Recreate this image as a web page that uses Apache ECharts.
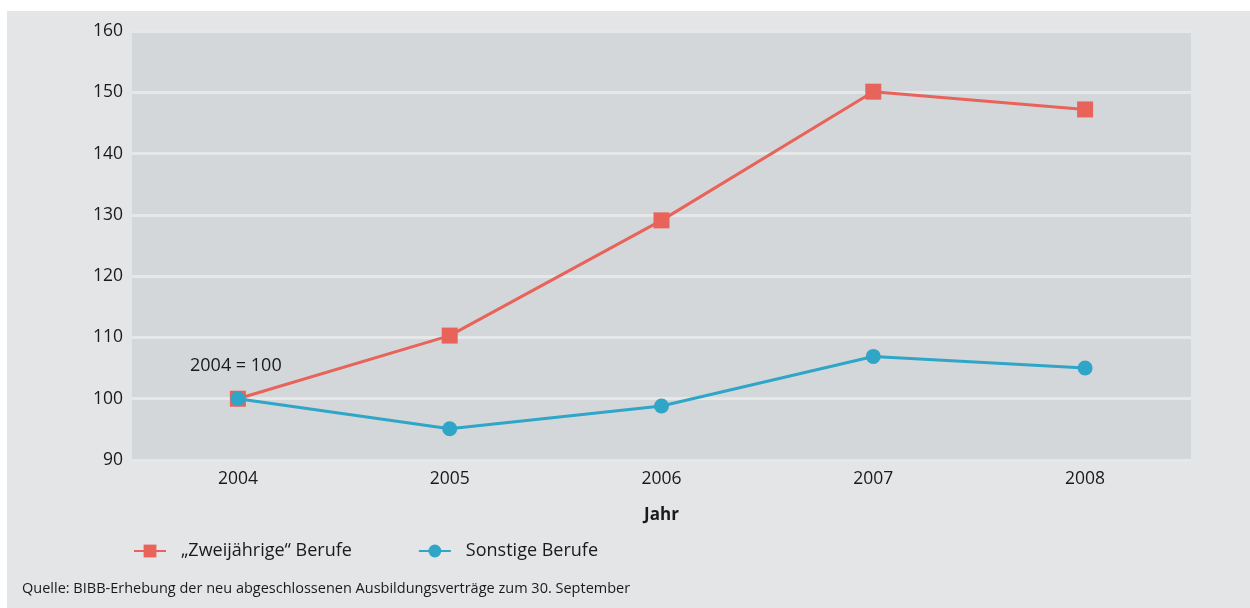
<!DOCTYPE html>
<html>
<head>
<meta charset="utf-8">
<script src="https://cdn.jsdelivr.net/npm/echarts@6/dist/echarts.min.js"></script>
<style>
html,body{margin:0;padding:0;background:#fff;}
#main{width:1250px;height:608px;}
</style>
</head>
<body>
<div id="main"></div>
<script>
var years = ['2004', '2005', '2006', '2007', '2008'];
var zweijaehrige = [100, 110.3, 129.1, 150.1, 147.2];
var sonstige = [100, 95.1, 98.8, 106.9, 105.0];
var seriesNames = ['\u201eZweij\u00e4hrige\u201c Berufe', 'Sonstige Berufe'];

var myChart = echarts.init(document.getElementById('main'));
var fontFam = '"Open Sans", "Noto Sans", sans-serif';

var option = {
	animation: false,
	textStyle: {fontFamily: fontFam},
	graphic: [
		{
			type: 'rect', z: -10, silent: true,
			shape: {x: 7, y: 11, width: 1243, height: 597},
			style: {fill: '#e4e5e7'}
		},
		{
			type: 'text', left: 190, top: 357,
			style: {text: '2004 = 100', font: '18px ' + fontFam, fill: '#1a1a1a'}
		},
		{
			type: 'text', left: 22, top: 581,
			style: {text: 'Quelle: BIBB-Erhebung der neu abgeschlossenen Ausbildungsvertr\u00e4ge zum 30. September', font: '14.5px ' + fontFam, fill: '#1a1a1a'}
		}
	],
	grid: {
		left: 132, right: 59, top: 31, bottom: 148,
		show: true, backgroundColor: '#d4d7da', borderWidth: 0
	},
	legend: {
		left: 133, top: 542, padding: 0,
		itemWidth: 32, itemHeight: 16, itemGap: 66,
		textStyle: {fontSize: 18, color: '#1a1a1a', fontFamily: fontFam, padding: [0, 0, 0, 10]},
		data: seriesNames
	},
	xAxis: {
		type: 'category',
		data: years,
		name: 'Jahr',
		nameLocation: 'middle',
		nameGap: 47,
		nameTextStyle: {fontSize: 17, fontWeight: 'bold', color: '#1a1a1a'},
		axisLine: {show: false},
		axisTick: {show: false},
		axisLabel: {fontSize: 17.5, color: '#1a1a1a', margin: 10}
	},
	yAxis: {
		type: 'value',
		min: 90, max: 160, interval: 10,
		axisLine: {show: false},
		axisTick: {show: false},
		axisLabel: {fontSize: 17.5, color: '#1a1a1a', margin: 9},
		splitLine: {lineStyle: {color: '#e6e7e9', width: 3}}
	},
	series: [
		{
			name: seriesNames[0],
			type: 'line',
			data: zweijaehrige,
			symbol: 'rect',
			symbolSize: 16,
			lineStyle: {color: '#e8635a', width: 3},
			itemStyle: {color: '#e8635a'}
		},
		{
			name: seriesNames[1],
			type: 'line',
			data: sonstige,
			symbol: 'circle',
			symbolSize: 15,
			lineStyle: {color: '#2fa5c7', width: 3},
			itemStyle: {color: '#2fa5c7'}
		}
	]
};
myChart.setOption(option);
</script>
</body>
</html>
